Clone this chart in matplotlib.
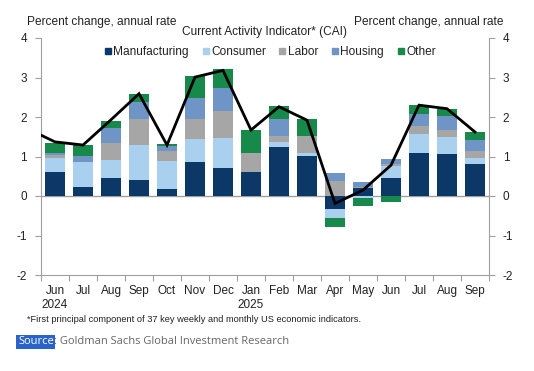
import matplotlib
matplotlib.use("Agg")
import matplotlib.pyplot as plt
from matplotlib.lines import Line2D
import numpy as np

months = ["Jun", "Jul", "Aug", "Sep", "Oct", "Nov", "Dec", "Jan",
          "Feb", "Mar", "Apr", "May", "Jun", "Jul", "Aug", "Sep"]
years = {0: "2024", 7: "2025"}

manufacturing = [0.61, 0.23, 0.46, 0.41, 0.17, 0.87, 0.71, 0.61,
                 1.23, 1.01, -0.32, 0.19, 0.46, 1.09, 1.07, 0.82]
consumer = [0.36, 0.63, 0.45, 0.89, 0.71, 0.57, 0.75, 0.00,
            0.13, 0.07, -0.24, -0.05, 0.30, 0.48, 0.43, 0.15]
labor = [0.08, -0.03, 0.43, 0.65, 0.26, 0.51, 0.69, 0.48,
         0.16, 0.44, 0.38, 0.03, 0.06, 0.20, 0.18, 0.17]
housing = [0.05, 0.15, 0.39, 0.42, 0.12, 0.53, 0.59, 0.00,
           0.42, 0.00, 0.19, 0.14, 0.11, 0.30, 0.34, 0.29]
other = [0.23, 0.29, 0.18, 0.22, 0.05, 0.55, 0.47, 0.59,
         0.34, 0.42, -0.23, -0.20, -0.16, 0.23, 0.18, 0.19]

# CAI line; first value is May 2024 (clipped at the left edge)
cai_prev = 1.71
cai = [1.37, 1.29, 1.93, 2.59, 1.29, 3.01, 3.18, 1.67,
       2.26, 1.92, -0.19, 0.15, 0.78, 2.30, 2.21, 1.62]

series = [("Manufacturing", manufacturing, "#0b3866"),
          ("Consumer", consumer, "#a9d1ef"),
          ("Labor", labor, "#a6a6a6"),
          ("Housing", housing, "#6f95c6"),
          ("Other", other, "#16894b")]

plt.rcParams['font.family'] = ['Liberation Sans', 'DejaVu Sans']
txt = "#222222"
axc = "#a0a0a0"

fig = plt.figure(figsize=(5.34, 3.71), dpi=100)
ax = fig.add_axes([41/534, 1-275/371, 448/534, 237/371])

x = np.arange(len(months))
pos_base = np.zeros(len(months))
neg_base = np.zeros(len(months))
for name, vals, col in series:
    v = np.array(vals)
    p = np.where(v > 0, v, 0)
    n = np.where(v < 0, v, 0)
    ax.bar(x, p, bottom=pos_base, width=0.69, color=col, zorder=2)
    ax.bar(x, n, bottom=neg_base, width=0.69, color=col, zorder=2)
    pos_base += p
    neg_base += n

ax.axhline(0, color=axc, lw=1, zorder=1)
ax.plot(np.concatenate([[-1], x]), [cai_prev] + cai, color="black", lw=2,
        zorder=3, solid_joinstyle="miter")

ax.set_xlim(-0.5, len(months) - 0.5)
ax.set_ylim(-2, 4)
yt = [-2, -1, 0, 1, 2, 3, 4]
ax.set_yticks(yt)
ax.set_yticklabels([str(t) for t in yt])
ax.set_xticks(np.arange(-0.5, len(months), 1.0))
ax.set_xticklabels([])
ax.set_xticks(x, minor=True)
ax.set_xticklabels([m + ("\n" + years[i] if i in years else "") for i, m in enumerate(months)],
                   minor=True)
ax.tick_params(axis='x', which='major', length=4, color=axc, direction='out')
ax.tick_params(axis='x', which='minor', length=0, labelsize=8.5, colors=txt, pad=7.5)
ax.tick_params(axis='y', length=4, color=axc, labelsize=8.5, labelcolor=txt, pad=6)
for lbl in ax.get_xticklabels(minor=True):
    lbl.set_linespacing(1.15)

for s in ["top"]:
    ax.spines[s].set_visible(False)
for s in ["left", "right", "bottom"]:
    ax.spines[s].set_color(axc)
ax.spines["right"].set_visible(False)

ax2 = ax.twinx()
ax2.set_ylim(-2, 4)
ax2.set_yticks(yt)
ax2.set_yticklabels([str(t) for t in yt])
ax2.tick_params(axis='y', length=4, color=axc, labelsize=8.5, labelcolor=txt, pad=6)
for s in ["top", "left", "bottom"]:
    ax2.spines[s].set_visible(False)
ax2.spines["right"].set_color(axc)

fig.text(27/534, 1-22/371, "Percent change, annual rate", ha="left", va="center",
         fontsize=8.6, color=txt)
fig.text(503/534, 1-22/371, "Percent change, annual rate", ha="right", va="center",
         fontsize=8.6, color=txt)
fig.text(265/534, 1-32/371, "Current Activity Indicator* (CAI)", ha="center", va="center",
         fontsize=8.6, color=txt)

handles = [Line2D([], [], marker="s", color=col, linestyle="none", markersize=4.5)
           for _, _, col in series]
fig.legend(handles, [s[0] for s in series], loc="center", ncol=5,
           bbox_to_anchor=(270/534, 1-52/371), frameon=False, fontsize=8.6,
           handlelength=0.6, handletextpad=0.15, columnspacing=1.1,
           labelcolor=txt, borderpad=0)

fig.text(27/534, 1-320/371,
         "*First principal component of 37 key weekly and monthly US economic indicators.",
         ha="left", va="center", fontsize=6.7, color=txt)

fig.text(18/534, 1-342/371, "Source", ha="left", va="center", fontsize=8.0,
         family=["Open Sans", "DejaVu Sans"], color="white",
         bbox=dict(facecolor="#2a63c9", edgecolor="none", pad=1.2))
fig.text(54/534, 1-342/371, ": Goldman Sachs Global Investment Research", ha="left",
         va="center", fontsize=8.0, family=["Open Sans", "DejaVu Sans"], color="#666666")

fig.savefig("out.png", dpi=100)
